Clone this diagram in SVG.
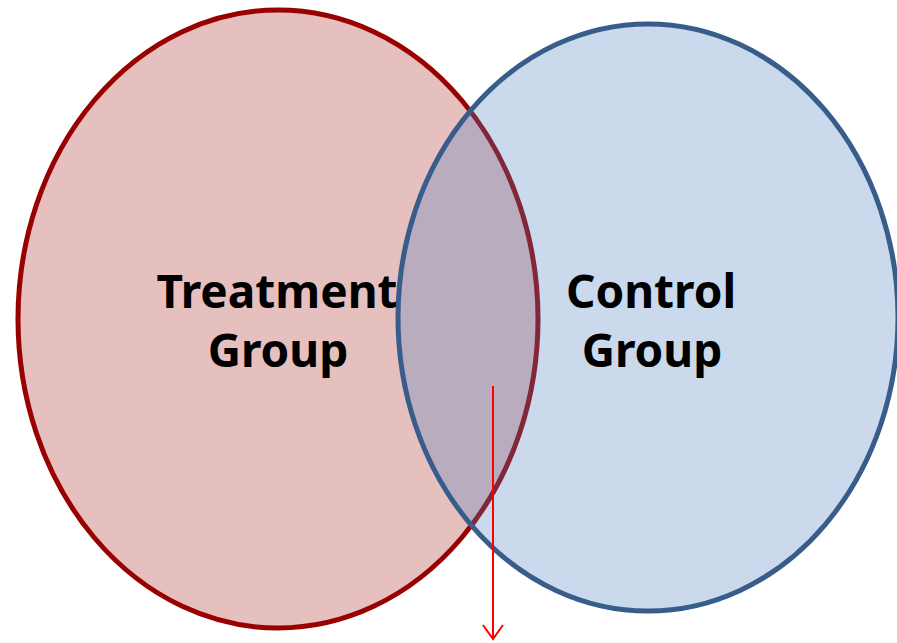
<svg xmlns="http://www.w3.org/2000/svg" width="897" height="643" viewBox="0 0 897 643">
<style>
.lbl{font-family:"Noto Sans","Open Sans","DejaVu Sans",sans-serif;font-weight:bold;font-size:46px;fill:#000;text-anchor:middle}
</style>
<rect width="897" height="643" fill="#fff"/>
<g id="treatment">
<ellipse cx="278" cy="319" rx="260" ry="309" fill="#E6BFBF" stroke="#990000" stroke-width="5"/>
</g>
<g id="control">
<ellipse cx="648" cy="317.5" rx="250" ry="293.5" fill="#4F81BD" fill-opacity="0.3" stroke="#385D8A" stroke-width="5"/>
</g>
<g id="labels">
<text class="lbl" x="277" y="308">Treatment</text>
<text class="lbl" x="278" y="367">Group</text>
<text class="lbl" x="651" y="308">Control</text>
<text class="lbl" x="652" y="367">Group</text>
</g>
<g id="connectors">
<line x1="493" y1="386" x2="493" y2="639" stroke="#FF0000" stroke-width="2"/>
<polyline points="483,625 493,639 503,625" fill="none" stroke="#FF0000" stroke-width="2"/>
</g>
</svg>
